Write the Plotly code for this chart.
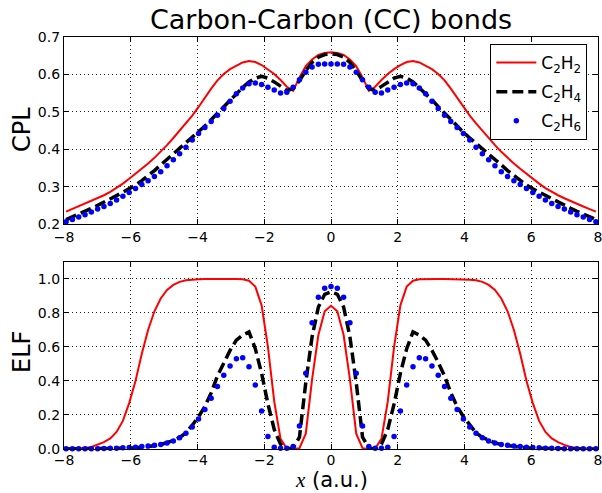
import plotly.graph_objects as go

# x grid (a.u.)
x = [-7.937, -7.748, -7.559, -7.370, -7.181, -6.992, -6.803, -6.614, -6.425, -6.236,
     -6.047, -5.858, -5.669, -5.480, -5.291, -5.102, -4.913, -4.724, -4.535, -4.346,
     -4.157, -3.968, -3.779, -3.590, -3.402, -3.213, -3.024, -2.835, -2.646, -2.457,
     -2.268, -2.079, -1.890, -1.701, -1.512, -1.323, -1.134, -0.945, -0.756, -0.567,
     -0.378, -0.189, 0.0,
     0.189, 0.378, 0.567, 0.756, 0.945, 1.134, 1.323, 1.512, 1.701, 1.890,
     2.079, 2.268, 2.457, 2.646, 2.835, 3.024, 3.213, 3.402, 3.590, 3.779,
     3.968, 4.157, 4.346, 4.535, 4.724, 4.913, 5.102, 5.291, 5.480, 5.669,
     5.858, 6.047, 6.236, 6.425, 6.614, 6.803, 6.992, 7.181, 7.370, 7.559,
     7.748, 7.937]

series_names = ["C<sub>2</sub>H<sub>2</sub>", "C<sub>2</sub>H<sub>4</sub>", "C<sub>2</sub>H<sub>6</sub>"]

cpl_c2h2 = [0.233, 0.240, 0.247, 0.254, 0.261, 0.269, 0.277, 0.286, 0.296, 0.308,
            0.321, 0.334, 0.348, 0.362, 0.377, 0.393, 0.411, 0.430, 0.449, 0.469,
            0.490, 0.513, 0.538, 0.562, 0.584, 0.601, 0.614, 0.624, 0.632, 0.636,
            0.633, 0.625, 0.614, 0.601, 0.585, 0.567, 0.556, 0.592, 0.622, 0.640,
            0.652, 0.657, 0.659,
            0.657, 0.652, 0.640, 0.622, 0.592, 0.556, 0.567, 0.585, 0.601, 0.614,
            0.625, 0.633, 0.636, 0.632, 0.624, 0.614, 0.601, 0.584, 0.562, 0.538,
            0.513, 0.490, 0.469, 0.449, 0.430, 0.411, 0.393, 0.377, 0.362, 0.348,
            0.334, 0.321, 0.308, 0.296, 0.286, 0.277, 0.269, 0.261, 0.254, 0.247,
            0.240, 0.233]

cpl_c2h4 = [0.212, 0.219, 0.227, 0.234, 0.242, 0.250, 0.258, 0.267, 0.276, 0.285,
            0.294, 0.304, 0.316, 0.329, 0.343, 0.358, 0.373, 0.388, 0.402, 0.416,
            0.430, 0.445, 0.462, 0.479, 0.496, 0.514, 0.532, 0.550, 0.565, 0.580,
            0.590, 0.595, 0.590, 0.580, 0.568, 0.557, 0.562, 0.583, 0.610, 0.632,
            0.646, 0.653, 0.655,
            0.653, 0.646, 0.632, 0.610, 0.583, 0.562, 0.557, 0.568, 0.580, 0.590,
            0.595, 0.590, 0.580, 0.565, 0.550, 0.532, 0.514, 0.496, 0.479, 0.462,
            0.445, 0.430, 0.416, 0.402, 0.388, 0.373, 0.358, 0.343, 0.329, 0.316,
            0.304, 0.294, 0.285, 0.276, 0.267, 0.258, 0.250, 0.242, 0.234, 0.227,
            0.219, 0.212]

cpl_c2h6 = [0.206, 0.212, 0.219, 0.225, 0.232, 0.240, 0.247, 0.255, 0.264, 0.274,
            0.284, 0.295, 0.306, 0.316, 0.327, 0.340, 0.356, 0.372, 0.388, 0.405,
            0.425, 0.442, 0.458, 0.474, 0.491, 0.509, 0.528, 0.548, 0.564, 0.575,
            0.577, 0.573, 0.566, 0.558, 0.550, 0.552, 0.566, 0.586, 0.606, 0.620,
            0.627, 0.628, 0.628,
            0.628, 0.627, 0.620, 0.606, 0.586, 0.566, 0.552, 0.550, 0.558, 0.566,
            0.573, 0.577, 0.575, 0.564, 0.548, 0.528, 0.509, 0.491, 0.474, 0.458,
            0.442, 0.425, 0.405, 0.388, 0.372, 0.356, 0.340, 0.327, 0.316, 0.306,
            0.295, 0.284, 0.274, 0.264, 0.255, 0.247, 0.240, 0.232, 0.225, 0.219,
            0.212, 0.206]

elf_c2h2 = [0.000, 0.001, 0.003, 0.006, 0.012, 0.024, 0.040, 0.062, 0.100, 0.165,
            0.270, 0.400, 0.560, 0.700, 0.810, 0.885, 0.935, 0.965, 0.983, 0.992,
            0.996, 0.998, 0.999, 1.000, 1.000, 1.000, 1.000, 1.000, 0.998, 0.990,
            0.955, 0.845, 0.600, 0.280, 0.060, 0.002, 0.000, 0.005, 0.090, 0.410,
            0.670, 0.810, 0.842,
            0.810, 0.670, 0.410, 0.090, 0.005, 0.000, 0.002, 0.060, 0.280, 0.600,
            0.845, 0.955, 0.990, 0.998, 1.000, 1.000, 1.000, 1.000, 1.000, 0.999,
            0.998, 0.996, 0.992, 0.983, 0.965, 0.935, 0.885, 0.810, 0.700, 0.560,
            0.400, 0.270, 0.165, 0.100, 0.062, 0.040, 0.024, 0.012, 0.006, 0.003,
            0.001, 0.000]

elf_c2h4 = [0.000, 0.000, 0.001, 0.001, 0.001, 0.001, 0.002, 0.002, 0.003, 0.004,
            0.005, 0.007, 0.010, 0.014, 0.019, 0.026, 0.036, 0.050, 0.068, 0.095,
            0.140, 0.190, 0.250, 0.330, 0.430, 0.510, 0.580, 0.640, 0.670, 0.688,
            0.590, 0.445, 0.265, 0.115, 0.028, 0.000, 0.005, 0.070, 0.390, 0.660,
            0.835, 0.910, 0.925,
            0.910, 0.835, 0.660, 0.390, 0.070, 0.005, 0.000, 0.028, 0.115, 0.265,
            0.445, 0.590, 0.688, 0.670, 0.640, 0.580, 0.510, 0.430, 0.330, 0.250,
            0.190, 0.140, 0.095, 0.068, 0.050, 0.036, 0.026, 0.019, 0.014, 0.010,
            0.007, 0.005, 0.004, 0.003, 0.002, 0.002, 0.001, 0.001, 0.001, 0.001,
            0.000, 0.000]

elf_c2h6 = [0.001, 0.001, 0.001, 0.001, 0.002, 0.002, 0.003, 0.004, 0.005, 0.007,
            0.009, 0.011, 0.014, 0.018, 0.022, 0.027, 0.035, 0.047, 0.066, 0.092,
            0.130, 0.176, 0.233, 0.298, 0.367, 0.433, 0.488, 0.530, 0.537, 0.484,
            0.376, 0.224, 0.073, 0.010, 0.004, 0.004, 0.014, 0.135, 0.445, 0.743,
            0.892, 0.945, 0.955,
            0.945, 0.892, 0.743, 0.445, 0.135, 0.014, 0.004, 0.004, 0.010, 0.073,
            0.224, 0.376, 0.484, 0.537, 0.530, 0.488, 0.433, 0.367, 0.298, 0.233,
            0.176, 0.130, 0.092, 0.066, 0.047, 0.035, 0.027, 0.022, 0.018, 0.014,
            0.011, 0.009, 0.007, 0.005, 0.004, 0.003, 0.002, 0.002, 0.001, 0.001,
            0.001, 0.001]

x_ticks = [-8, -6, -4, -2, 0, 2, 4, 6, 8]
x_tick_labels = ["\u22128", "\u22126", "\u22124", "\u22122", "0", "2", "4", "6", "8"]
cpl_ticks = [0.2, 0.3, 0.4, 0.5, 0.6, 0.7]
elf_ticks = [0.0, 0.2, 0.4, 0.6, 0.8, 1.0]

FONT = "DejaVu Sans"
RED, BLACK, BLUE = "#ff0000", "#000000", "#0000ff"

fig = go.Figure()

def add_set(ys, xa, ya, legend):
    fig.add_trace(go.Scatter(x=x, y=ys[0], mode="lines", name=series_names[0],
                             legendgroup="g1",
                             line=dict(color=RED, width=2), xaxis=xa, yaxis=ya,
                             showlegend=legend))
    fig.add_trace(go.Scatter(x=x, y=ys[1], mode="lines", name=series_names[1],
                             legendgroup="g2",
                             line=dict(color=BLACK, width=3.5, dash="11px,5px"),
                             xaxis=xa, yaxis=ya, showlegend=legend))
    fig.add_trace(go.Scatter(x=x, y=ys[2], mode="markers", name=series_names[2],
                             legendgroup="g3",
                             marker=dict(color=BLUE, size=5.5), xaxis=xa, yaxis=ya,
                             showlegend=legend, cliponaxis=False))

add_set([cpl_c2h2, cpl_c2h4, cpl_c2h6], "x", "y", True)
add_set([elf_c2h2, elf_c2h4, elf_c2h6], "x2", "y2", False)

axis_common = dict(
    showline=True, linecolor="black", linewidth=1.2, mirror="ticks",
    ticks="inside", ticklen=5, tickwidth=1, tickcolor="black",
    showgrid=True, gridcolor="#222222", gridwidth=0.8, griddash="1px,3px",
    zeroline=False, tickfont=dict(family=FONT, size=14, color="black"),
    ticklabeloverflow="allow", automargin=False,
)

TOP_DOM = [0.546, 1.0]
BOT_DOM = [0.0, 0.454]

fig.update_layout(
    width=602, height=493,
    margin=dict(l=64, r=4, t=37, b=44, autoexpand=False),
    paper_bgcolor="white", plot_bgcolor="white",
    font=dict(family=FONT, color="black"),
    title=dict(text="Carbon-Carbon (CC) bonds", x=0.5, xref="paper",
               y=1 - 20 / 493, yanchor="middle", xanchor="center",
               font=dict(family=FONT, size=27, color="black")),
    xaxis=dict(domain=[0, 1], anchor="y", range=[-8, 8], tickvals=x_ticks,
               ticktext=x_tick_labels, **axis_common),
    yaxis=dict(domain=TOP_DOM, anchor="x", range=[0.2, 0.7], tickvals=cpl_ticks,
               tickformat=".1f", **axis_common),
    xaxis2=dict(domain=[0, 1], anchor="y2", range=[-8, 8], tickvals=x_ticks,
                ticktext=x_tick_labels, ticklabelstandoff=-2, **axis_common),
    yaxis2=dict(domain=BOT_DOM, anchor="x2", range=[0, 1.1], tickvals=elf_ticks,
                tickformat=".1f", **axis_common),
    legend=dict(x=0.98, y=0.983, xanchor="right", yanchor="top",
                bgcolor="white", bordercolor="black", borderwidth=1,
                font=dict(family=FONT, size=17, color="black"),
                tracegroupgap=4, itemwidth=40, traceorder="grouped"),
    showlegend=True,
)

fig.add_annotation(text="CPL", xref="paper", yref="paper",
                   x=(22 - 64) / 534, y=(449 - 130) / 412, textangle=-90,
                   xanchor="center", yanchor="middle",
                   showarrow=False, font=dict(family=FONT, size=24, color="black"))
fig.add_annotation(text="ELF", xref="paper", yref="paper",
                   x=(22 - 64) / 534, y=(449 - 352) / 412, textangle=-90,
                   xanchor="center", yanchor="middle",
                   showarrow=False, font=dict(family=FONT, size=24, color="black"))
fig.add_annotation(text='<span style="font-family:Liberation Serif"><i>x</i></span> (a.u.)',
                   xref="paper", yref="paper",
                   x=0.5, y=(449 - 480) / 412, xanchor="center", yanchor="middle",
                   showarrow=False,
                   font=dict(family=FONT, size=21, color="black"))

fig.write_html("out.html", config={"displayModeBar": False},
               post_script="document.body.style.margin='0';document.body.style.overflow='hidden';")
